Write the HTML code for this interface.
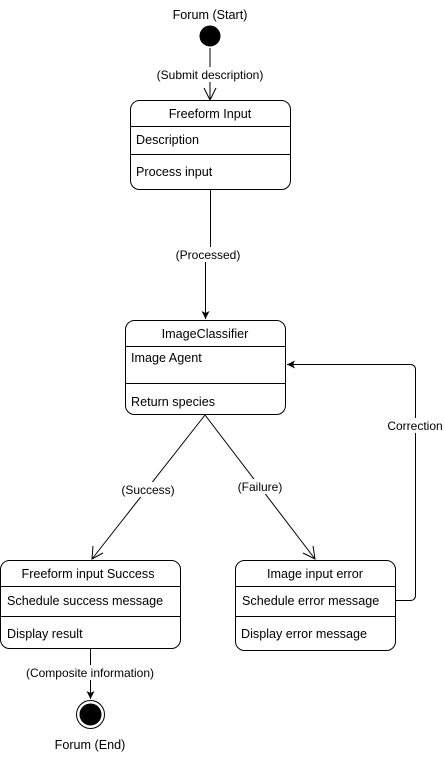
<!DOCTYPE html>
<html><head><meta charset="utf-8"><style>
html,body{margin:0;padding:0;background:#fff;}
svg{display:block;}
text{font-family:"Liberation Sans",Arial,sans-serif;fill:#000;}
.t{font-size:12.6px;}
.l{font-size:12px;}
</style></head><body>
<svg width="444" height="760" viewBox="0 0 444 760" xmlns="http://www.w3.org/2000/svg">
<defs>
<marker id="fa" markerWidth="10" markerHeight="10" refX="8" refY="4" orient="auto" markerUnits="userSpaceOnUse"><path d="M0,0 L8,4 L0,8 L2,4 Z" fill="#000"/></marker>
</defs>
<g fill="none" stroke="#000" stroke-width="1">
<circle cx="210" cy="36" r="10" fill="#000"/>
<line x1="210" y1="48" x2="210" y2="100"/>
<path d="M204,88 L210,100 L216,88"/>
<rect x="130.5" y="100.5" width="160" height="89" rx="9" fill="#fff"/>
<line x1="130.5" y1="126.5" x2="290.5" y2="126.5"/>
<line x1="130.5" y1="154.5" x2="290.5" y2="154.5"/>
<path d="M210.5,190 L210.5,255 L205.5,255 L205.5,319" marker-end="url(#fa)"/>
<rect x="125.5" y="320.5" width="160" height="94" rx="9" fill="#fff"/>
<line x1="125.5" y1="346.5" x2="285.5" y2="346.5"/>
<line x1="125.5" y1="383.5" x2="285.5" y2="383.5"/>
<line x1="205" y1="415" x2="92" y2="559"/>
<path d="M93,546 L92,559 L103,553"/>
<line x1="205" y1="415" x2="315" y2="559"/>
<path d="M303,553 L315,559 L313,546"/>
<path d="M395.5,600.5 L410,600.5 Q415.5,600.5 415.5,595 L415.5,370 Q415.5,364.5 410,364.5 L287,364.5" marker-end="url(#fa)"/>
<rect x="0.5" y="560.5" width="180" height="88" rx="9" fill="#fff"/>
<line x1="0.5" y1="586.5" x2="180.5" y2="586.5"/>
<line x1="0.5" y1="616.5" x2="180.5" y2="616.5"/>
<rect x="235.5" y="560.5" width="160" height="90" rx="9" fill="#fff"/>
<line x1="235.5" y1="586.5" x2="395.5" y2="586.5"/>
<line x1="235.5" y1="616.5" x2="395.5" y2="616.5"/>
<line x1="90.5" y1="649" x2="90.5" y2="699" marker-end="url(#fa)"/>
<circle cx="90.5" cy="714.5" r="14" fill="#fff"/>
<circle cx="90.5" cy="714.5" r="10.5" fill="#000"/>
</g>
<rect x="152" y="67" width="116" height="15" fill="#fff"/>
<rect x="172" y="247" width="72" height="15" fill="#fff"/>
<rect x="118" y="482" width="60" height="15" fill="#fff"/>
<rect x="233" y="479" width="54" height="15" fill="#fff"/>
<rect x="384" y="418" width="60" height="15" fill="#fff"/>
<rect x="22" y="665" width="138" height="15" fill="#fff"/>
<text class="t" x="210" y="19" text-anchor="middle">Forum (Start)</text>
<text class="l" x="210" y="79" text-anchor="middle">(Submit description)</text>
<text class="t" x="210" y="118" text-anchor="middle">Freeform Input</text>
<text class="t" x="136" y="144">Description</text>
<text class="t" x="136" y="176">Process input</text>
<text class="l" x="208" y="259" text-anchor="middle">(Processed)</text>
<text class="t" x="205" y="338" text-anchor="middle">ImageClassifier</text>
<text class="t" x="131" y="362">Image Agent</text>
<text class="t" x="131" y="406">Return species</text>
<text class="l" x="148" y="494" text-anchor="middle">(Success)</text>
<text class="l" x="260" y="491" text-anchor="middle">(Failure)</text>
<text class="l" x="415" y="430" text-anchor="middle">Correction</text>
<text class="t" x="88" y="578" text-anchor="middle">Freeform input Success</text>
<text class="t" x="7" y="605">Schedule success message</text>
<text class="t" x="7" y="638">Display result</text>
<text class="t" x="315" y="578" text-anchor="middle">Image input error</text>
<text class="t" x="242" y="605">Schedule error message</text>
<text class="t" x="241" y="638">Display error message</text>
<text class="l" x="90" y="677" text-anchor="middle">(Composite information)</text>
<text class="t" x="90" y="749" text-anchor="middle">Forum (End)</text>
</svg>
</body></html>
